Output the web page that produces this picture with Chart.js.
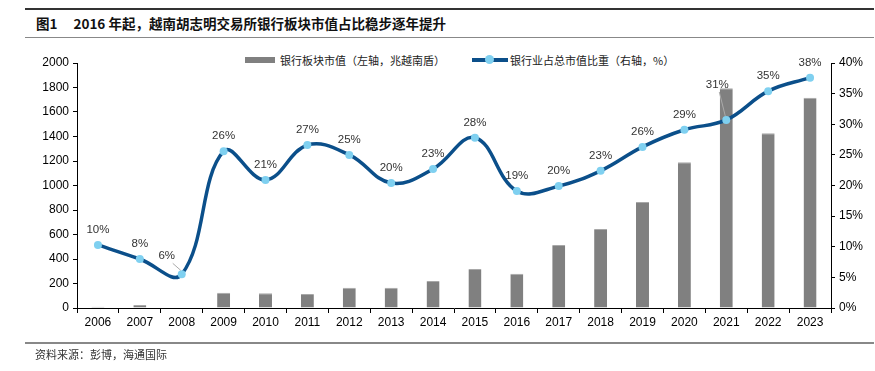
<!DOCTYPE html>
<html>
<head>
<meta charset="utf-8">
<script src="https://cdn.jsdelivr.net/npm/chart.js@4.4.0/dist/chart.umd.min.js"></script>
<style>
  html, body { margin: 0; padding: 0; background: #fff; }
  body { width: 875px; height: 371px; position: relative; overflow: hidden;
         font-family: "Noto Sans CJK SC", "Liberation Sans", sans-serif; }
  .rule { position: absolute; left: 25px; right: 1px; }
  #title { position: absolute; left: 36px; top: 13px; font-size: 13.5px; font-weight: bold; color: #111; white-space: nowrap; }
  #title b { display: inline-block; width: 16px; }
  #legend { position: absolute; top: 50px; left: 245px; font-size: 11px; color: #222; white-space: nowrap; }
  #legend span { display: inline-block; vertical-align: middle; }
  .swatch-bar { width: 30px; height: 6px; background: #808080; margin-right: 5px; }
  .swatch-line { position: relative; width: 36px; height: 4px; background: #0b4f8a; margin-left: 27px; margin-right: 2px; }
  .swatch-line i { position: absolute; left: 13px; top: -3px; width: 9px; height: 9px; border-radius: 50%; background: #7fd0f0; }
  #source { position: absolute; left: 35px; top: 346px; font-size: 11px; color: #333; }
  #wrap { position: absolute; left: 0; top: 0; width: 875px; height: 371px; }
</style>
</head>
<body>
<div class="rule" style="top:8px;height:2px;background:#333"></div>
<div id="title">图1<b></b>2016 年起，越南胡志明交易所银行板块市值占比稳步逐年提升</div>
<div class="rule" style="top:37px;height:1px;background:#888"></div>
<div id="legend"><span class="swatch-bar"></span><span>银行板块市值（左轴，兆越南盾）</span><span class="swatch-line"><i></i></span><span>银行业占总市值比重（右轴，%）</span></div>
<div id="wrap"><canvas id="chart" width="875" height="371"></canvas></div>
<div class="rule" style="top:342px;height:2px;background:#888"></div>
<div id="source">资料来源：彭博，海通国际</div>
<script>
const years = ["2006","2007","2008","2009","2010","2011","2012","2013","2014","2015","2016","2017","2018","2019","2020","2021","2022","2023"];
const bankMarketCap = [10, 25, 5, 125, 120, 115, 165, 165, 220, 318, 280, 515, 645, 865, 1190, 1793, 1426, 1717];
const bankShare = [10.3, 8.0, 5.5, 25.6, 20.9, 26.6, 25.0, 20.4, 22.7, 27.8, 19.1, 19.9, 22.4, 26.3, 29.1, 30.7, 35.4, 37.6];
const shareLabels = ["10%","8%","6%","26%","21%","27%","25%","20%","23%","28%","19%","20%","23%","26%","29%","31%","35%","38%"];
const leftTicks = [0, 200, 400, 600, 800, 1000, 1200, 1400, 1600, 1800, 2000];
const rightTicks = [0, 5, 10, 15, 20, 25, 30, 35, 40];

// label placement: default is centred 15px above the point; a few use a leader line
const labelShift = { 2: { dx: -15, dy: -18, leader: true }, 15: { dx: -9, dy: -35, leader: true } };

const pointLabels = {
  id: 'pointLabels',
  afterDatasetsDraw(chart) {
    const ctx = chart.ctx;
    const meta = chart.getDatasetMeta(1);
    ctx.save();
    ctx.font = '11.5px "Liberation Sans", Arial, sans-serif';
    ctx.fillStyle = '#333';
    ctx.textAlign = 'center';
    ctx.textBaseline = 'middle';
    meta.data.forEach((pt, i) => {
      const s = labelShift[i] || { dx: 0, dy: -15 };
      const lx = pt.x + s.dx, ly = pt.y + s.dy;
      if (s.leader) {
        ctx.strokeStyle = '#aaa';
        ctx.lineWidth = 1;
        ctx.beginPath();
        ctx.moveTo(lx + (s.dx < -12 ? 6 : 2), ly + 7);
        ctx.lineTo(pt.x - 1, pt.y - 4);
        ctx.stroke();
      }
      ctx.fillText(shareLabels[i], lx, ly);
    });
    ctx.restore();
  }
};

const tickFont = { family: '"Liberation Sans", Arial, sans-serif', size: 12 };

new Chart(document.getElementById('chart'), {
  data: {
    labels: years,
    datasets: [
      {
        type: 'bar', label: '银行板块市值', data: bankMarketCap, yAxisID: 'y',
        backgroundColor: '#808080', borderColor: '#a8a8a8', borderWidth: { top: 1, left: 0, right: 0, bottom: 0 },
        barPercentage: 0.31, categoryPercentage: 1.0, order: 2
      },
      {
        type: 'line', label: '银行业占总市值比重', data: bankShare, yAxisID: 'y1',
        borderColor: '#0b4f8a', borderWidth: 3.5, tension: 0.4,
        pointRadius: 4, pointBackgroundColor: '#7fd0f0', pointBorderWidth: 0, order: 1
      }
    ]
  },
  options: {
    responsive: false,
    animation: false,
    layout: { padding: { top: 63, left: 0, right: 0, bottom: 0 } },
    plugins: { legend: { display: false }, tooltip: { enabled: false } },
    scales: {
      x: {
        offset: true,
        grid: { offset: true, drawOnChartArea: false, drawTicks: true, tickLength: 5, color: '#000' },
        border: { display: true, color: '#000', width: 1 },
        ticks: { color: '#000', font: tickFont, padding: 2, maxRotation: 0 },
        afterFit(s) { s.height = 63; }
      },
      y: {
        position: 'left', min: 0, max: 2000,
        afterBuildTicks(s) { s.ticks = leftTicks.map(v => ({ value: v })); },
        grid: { drawOnChartArea: false, drawTicks: true, tickLength: 4, color: '#000' },
        border: { display: true, color: '#000', width: 1 },
        ticks: { color: '#000', font: tickFont, padding: 4, callback: v => String(v) },
        afterFit(s) { s.width = 77; }
      },
      y1: {
        position: 'right', min: 0, max: 40,
        afterBuildTicks(s) { s.ticks = rightTicks.map(v => ({ value: v })); },
        grid: { drawOnChartArea: false, drawTicks: true, tickLength: 4, color: '#000' },
        border: { display: true, color: '#000', width: 1 },
        ticks: { color: '#000', font: tickFont, padding: 4, callback: v => v + '%' },
        afterFit(s) { s.width = 44; }
      }
    }
  },
  plugins: [pointLabels]
});
</script>
</body>
</html>
